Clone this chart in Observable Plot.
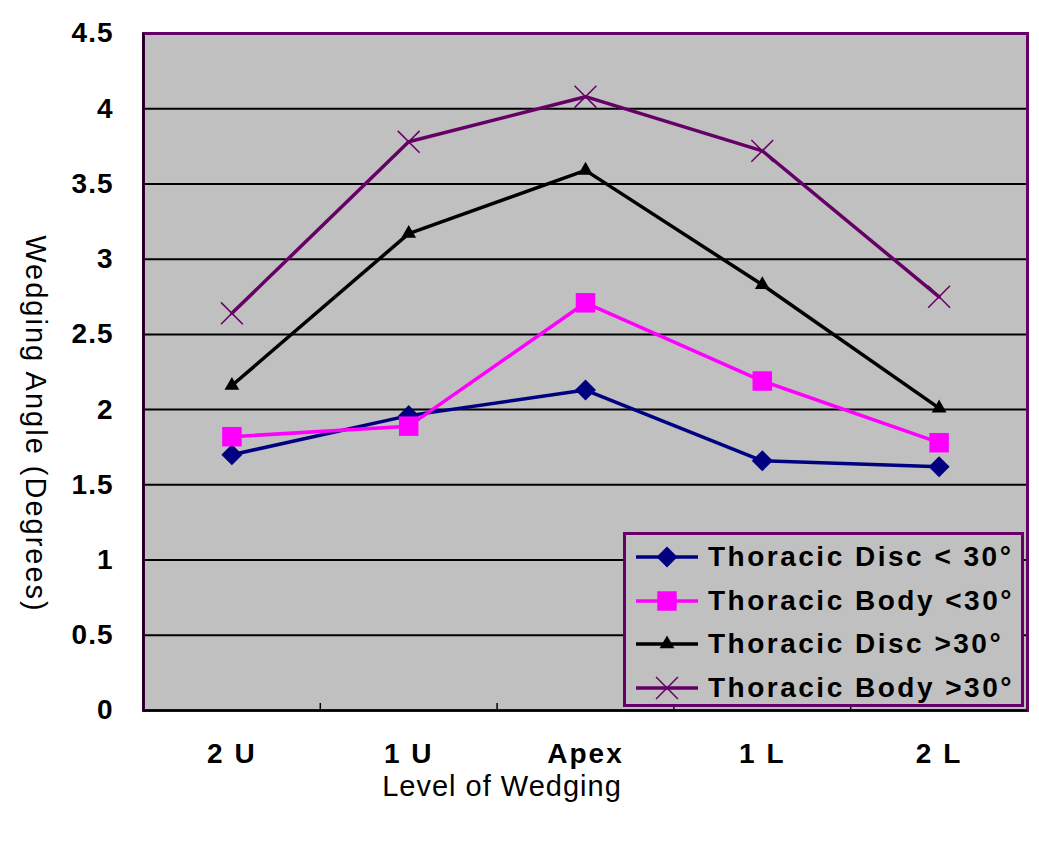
<!DOCTYPE html>
<html>
<head>
<meta charset="utf-8">
<script src="https://cdn.jsdelivr.net/npm/d3@7"></script>
<script src="https://cdn.jsdelivr.net/npm/@observablehq/plot@0.6"></script>
<style>
  html, body { margin: 0; padding: 0; background: #fff; }
  #wrap { position: relative; width: 1039px; height: 859px; font-family: Arial, "Liberation Sans", sans-serif; }
  #ytitle { position: absolute; left: 35px; top: 424px; line-height: 1; transform: translate(-50%, -50%) rotate(90deg); white-space: nowrap; font-size: 29px; letter-spacing: 2px; color: #000; }
  #xtitle { position: absolute; left: 502px; top: 786px; line-height: 1; transform: translate(-50%, -50%); white-space: nowrap; font-size: 29px; letter-spacing: 1px; color: #000; }
  #legend { position: absolute; left: 623px; top: 532px; width: 395px; height: 169px; border: 3px solid #660066; background: #c0c0c0; }
  .row { position: absolute; left: 0; height: 40px; display: flex; align-items: center; }
  .row span { font-weight: bold; font-size: 28px; line-height: 1; letter-spacing: 2.5px; color: #000; margin-left: 6px; white-space: nowrap; }
  g[aria-label="x-axis tick label"] text { letter-spacing: 2px; }
  g[aria-label="y-axis tick label"] text { letter-spacing: 1px; }
</style>
</head>
<body>
<div id="wrap">
  <div id="chart"></div>
  <div id="ytitle">Wedging Angle (Degrees)</div>
  <div id="xtitle">Level of Wedging</div>
  <div id="legend"></div>
</div>
<script>
const categories = ["2 U", "1 U", "Apex", "1 L", "2 L"];
const seriesNames = ["Thoracic Disc < 30°", "Thoracic Body <30°", "Thoracic Disc >30°", "Thoracic Body >30°"];
const discUnder30 = [1.70, 1.96, 2.13, 1.66, 1.62];
const bodyUnder30 = [1.82, 1.89, 2.71, 2.19, 1.78];
const discOver30 = [2.16, 3.17, 3.59, 2.83, 2.01];
const bodyOver30 = [2.64, 3.78, 4.08, 3.72, 2.75];
const yTicks = [0, 0.5, 1, 1.5, 2, 2.5, 3, 3.5, 4, 4.5];

const seriesValues = [discUnder30, bodyUnder30, discOver30, bodyOver30];
const colors = ["#000080", "#ff00ff", "#000000", "#660066"];
const symbols = ["diamond2", "square", "triangle", "times"];
const radii = [9.5, 11, 5.5, 10];

const rows = [];
seriesValues.forEach((vals, s) => vals.forEach((v, i) => rows.push({series: seriesNames[s], si: s, i, v})));

const font = "Arial, 'Liberation Sans', sans-serif";
const marks = [
  Plot.frame({fill: "#c0c0c0", stroke: "none"}),
  Plot.gridY(yTicks.filter(d => d > 0 && d < 4.5), {stroke: "#000", strokeOpacity: 1, strokeWidth: 2}),
  Plot.axisY({ticks: yTicks, tickSize: 0, tickPadding: 30, tickFormat: d => String(d), fontSize: 28, fontWeight: "bold", fontFamily: font, label: null}),
  Plot.axisX({ticks: [0,1,2,3,4], tickSize: 0, tickPadding: 33, tickFormat: i => categories[i], fontSize: 28, fontWeight: "bold", fontFamily: font, label: null}),
  Plot.axisX({ticks: [0.5,1.5,2.5,3.5], tickSize: -7, tickFormat: () => "", stroke: "#000", strokeWidth: 1.5, label: null}),
  Plot.frame({stroke: "#660066", strokeWidth: 3}),
  Plot.ruleY([0], {stroke: "#000", strokeWidth: 2}),
  Plot.ruleX([-0.5], {stroke: "#000", strokeWidth: 2})
];
seriesValues.forEach((vals, s) => {
  const d = rows.filter(r => r.si === s);
  marks.push(Plot.line(d, {x: "i", y: "v", stroke: colors[s], strokeWidth: 3.5}));
  const filled = symbols[s] !== "times";
  marks.push(Plot.dot(d, {x: "i", y: "v", symbol: () => symbols[s], r: radii[s],
    fill: filled ? colors[s] : "none", stroke: colors[s], strokeWidth: filled ? 0 : 1.5}));
});

const chart = Plot.plot({
  width: 1039, height: 859,
  marginLeft: 143, marginRight: 12, marginTop: 33, marginBottom: 149,
  style: {background: "transparent", fontFamily: font},
  x: {type: "linear", domain: [-0.5, 4.5], axis: null},
  y: {domain: [0, 4.5], axis: null},
  symbol: {type: "identity"},
  marks
});
document.getElementById("chart").appendChild(chart);

// Legend
const legend = document.getElementById("legend");
seriesNames.forEach((name, s) => {
  const row = document.createElement("div");
  row.className = "row";
  row.style.top = (2 + s * 43.5) + "px";
  const svg = d3.create("svg").attr("width", 76).attr("height", 40);
  svg.append("line").attr("x1", 10).attr("x2", 72).attr("y1", 20).attr("y2", 20).attr("stroke", colors[s]).attr("stroke-width", 3.5);
  const symMap = {diamond2: d3.symbolDiamond2, square: d3.symbolSquare, triangle: d3.symbolTriangle, times: d3.symbolTimes};
  const size = Math.PI * radii[s] * radii[s];
  const filled = symbols[s] !== "times";
  svg.append("path").attr("transform", "translate(41,20)")
    .attr("d", d3.symbol(symMap[symbols[s]], size)())
    .attr("fill", filled ? colors[s] : "none").attr("stroke", filled ? "none" : colors[s]).attr("stroke-width", 1.5);
  row.appendChild(svg.node());
  const t = document.createElement("span");
  t.textContent = name;
  row.appendChild(t);
  legend.appendChild(row);
});
</script>
</body>
</html>
